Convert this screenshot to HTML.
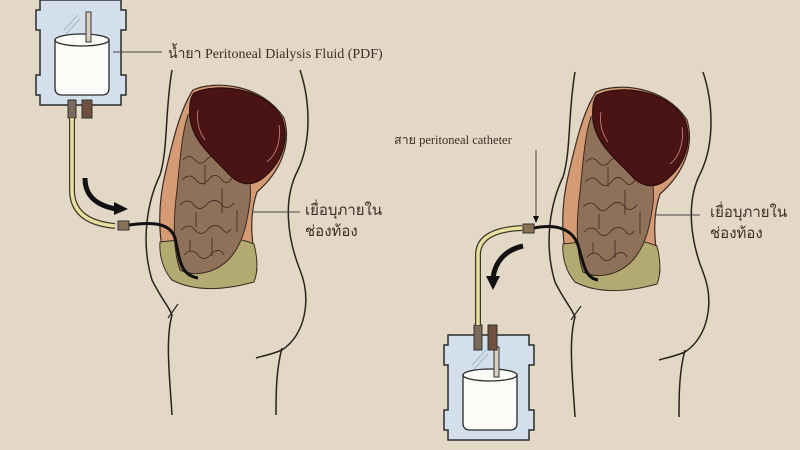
<!DOCTYPE html>
<html><head><meta charset="utf-8"><style>
html,body{margin:0;padding:0;background:#e3d8c5;}
svg{display:block}
text{font-family:"Liberation Serif","Noto Serif CJK SC","Noto Sans CJK SC",serif;fill:#3a2e28}
</style></head><body>
<svg width="800" height="450" viewBox="0 0 800 450" xmlns="http://www.w3.org/2000/svg">
<rect width="800" height="450" fill="#e3d8c5"/>
<defs>
<g id="body">
  <path d="M172,70 C165,110 168,150 160,175 C148,200 140,240 152,280 C162,300 168,305 172,315 C165,340 170,380 172,415" fill="none" stroke="#2a2220" stroke-width="1.5"/>
  <path d="M168,318 L178,304" fill="none" stroke="#2a2220" stroke-width="1.2"/>
  <path d="M300,70 C310,100 312,140 298,170 C282,200 288,240 300,270 C312,300 305,335 282,350 C270,355 262,356 256,358" fill="none" stroke="#2a2220" stroke-width="1.5"/>
  <path d="M282,348 C276,370 276,395 276,415" fill="none" stroke="#2a2220" stroke-width="1.5"/>
  <path d="M193,90 C215,80 262,84 284,118 C292,145 280,172 257,192 C249,215 251,240 257,270 C240,288 200,292 172,278 C158,252 156,210 166,170 C173,140 180,110 193,90 Z" fill="#d59b74" stroke="#3a2a22" stroke-width="1.2"/>
  <path d="M160,242 C200,238 232,234 254,244 C258,260 258,272 254,282 C225,290 195,292 172,280 C163,270 159,255 160,242 Z" fill="#b3aa72" stroke="#3a2a22" stroke-width="1"/>
  <path d="M188,115 C200,105 218,118 234,140 C248,165 252,182 250,202 C247,222 244,242 230,258 C215,274 194,277 180,270 C173,250 173,220 177,190 C180,160 182,132 188,115 Z" fill="#8f7058" stroke="#3a2a22" stroke-width="1"/>
  <g fill="none" stroke="#3a2a22" stroke-width="0.8">
    <path d="M183,160 q6,-7 12,0 q6,7 12,-1 q6,-6 12,2"/>
    <path d="M182,180 q8,-8 14,0 q6,8 14,-2 q6,-6 12,2 q5,6 10,-2"/>
    <path d="M180,205 q8,-8 14,0 q6,8 14,-2 q8,-6 14,2 q5,6 12,-2"/>
    <path d="M181,230 q8,-8 14,0 q6,8 14,-2 q8,-6 14,2 q4,5 8,-1"/>
    <path d="M184,255 q8,-8 14,0 q6,8 14,-2 q8,-6 12,2"/>
    <path d="M196,135 q6,8 12,0 q6,-8 14,2"/>
    <path d="M205,165 v20 M222,188 v25 M196,212 v15 M237,210 v22 M212,238 v18 M190,240 v12 M228,160 v14"/>
  </g>
  <path d="M194,93 C215,83 264,86 282,118 C290,140 282,163 263,178 C250,188 237,184 227,172 C213,157 193,142 190,118 C189,106 190,98 194,93 Z" fill="#4b1414" stroke="#2a0c0c" stroke-width="1.2"/>
  <path d="M198,110 C196,124 200,133 205,140" fill="none" stroke="#c88" stroke-width="0.8"/>
  <path d="M279,125 C281,140 277,154 267,162" fill="none" stroke="#c88" stroke-width="0.8"/>
</g>
<g id="bag">
  <path d="M40,0 L121,0 L121,10 L126,10 L126,30 L121,30 L121,75 L126,75 L126,95 L121,95 L121,105 L40,105 L40,95 L36,95 L36,75 L40,75 L40,30 L36,30 L36,10 L40,10 Z" fill="#d3e0ec" stroke="#2a2a2a" stroke-width="1.5"/>
  <path d="M55,40 L55,88 Q55,95 62,95 L102,95 Q109,95 109,88 L109,40 Z" fill="#fbfbf8" stroke="#2a2a2a" stroke-width="1.3"/>
  <ellipse cx="82" cy="40" rx="27" ry="6" fill="#fbfbf8" stroke="#2a2a2a" stroke-width="1.3"/>
  <rect x="86" y="12" width="5" height="30" fill="#d8d0c0" stroke="#333" stroke-width="1"/>
  <path d="M64,30 L78,15 M66,34 L80,19" stroke="#99aabb" stroke-width="0.8"/>
</g>
</defs>

<use href="#body"/>
<use href="#bag"/>
<rect x="68" y="100" width="8" height="18" fill="#7a6a5a" stroke="#333" stroke-width="1"/>
<rect x="82" y="100" width="10" height="18" fill="#6e5040" stroke="#333" stroke-width="1"/>
<path d="M72,118 L72,190 Q72,222 115,226" fill="none" stroke="#3a3a2a" stroke-width="6"/>
<path d="M72,118 L72,190 Q72,222 115,226" fill="none" stroke="#e8dfa0" stroke-width="3.5"/>
<rect x="118" y="221" width="11" height="9" fill="#8a7258" stroke="#333" stroke-width="1"/>
<path d="M129,225 C150,222 170,222 175,238 C180,260 180,275 198,278" fill="none" stroke="#111" stroke-width="3"/>
<path d="M85,178 C85,195 95,205 116,209" fill="none" stroke="#111" stroke-width="5"/>
<path d="M114,202 L128,209 L114,215 Z" fill="#111"/>
<line x1="113" y1="52" x2="162" y2="52" stroke="#444" stroke-width="1"/>
<text x="168" y="58" font-size="14">น้ำยา  Peritoneal Dialysis Fluid (PDF)</text>
<line x1="252" y1="212" x2="300" y2="212" stroke="#444" stroke-width="1"/>
<text x="305" y="215" font-size="15">เยื่อบุภายใน</text>
<text x="305" y="236" font-size="15">ช่องท้อง</text>

<use href="#body" transform="translate(403,2)"/>
<use href="#bag" transform="translate(408,335)"/>
<rect x="474" y="325" width="8" height="25" fill="#7a6a5a" stroke="#333" stroke-width="1"/>
<rect x="488" y="325" width="9" height="25" fill="#6e5040" stroke="#333" stroke-width="1"/>
<path d="M478,325 L478,255 Q478,230 522,228" fill="none" stroke="#3a3a2a" stroke-width="6"/>
<path d="M478,325 L478,255 Q478,230 522,228" fill="none" stroke="#e8dfa0" stroke-width="3.5"/>
<rect x="523" y="224" width="11" height="9" fill="#8a7258" stroke="#333" stroke-width="1"/>
<path d="M534,228 C555,224 572,228 578,245 C584,265 585,278 598,280" fill="none" stroke="#111" stroke-width="3"/>
<path d="M523,246 C505,250 495,262 493,278" fill="none" stroke="#111" stroke-width="5"/>
<path d="M486,276 L493,290 L500,276 Z" fill="#111"/>
<line x1="536" y1="150" x2="536" y2="218" stroke="#444" stroke-width="1"/>
<path d="M533,216 L536,223 L539,216 Z" fill="#111"/>
<text x="394" y="144" font-size="12.5">สาย peritoneal catheter</text>
<line x1="655" y1="215" x2="700" y2="215" stroke="#444" stroke-width="1"/>
<text x="710" y="217" font-size="15">เยื่อบุภายใน</text>
<text x="710" y="238" font-size="15">ช่องท้อง</text>
</svg>
</body></html>
